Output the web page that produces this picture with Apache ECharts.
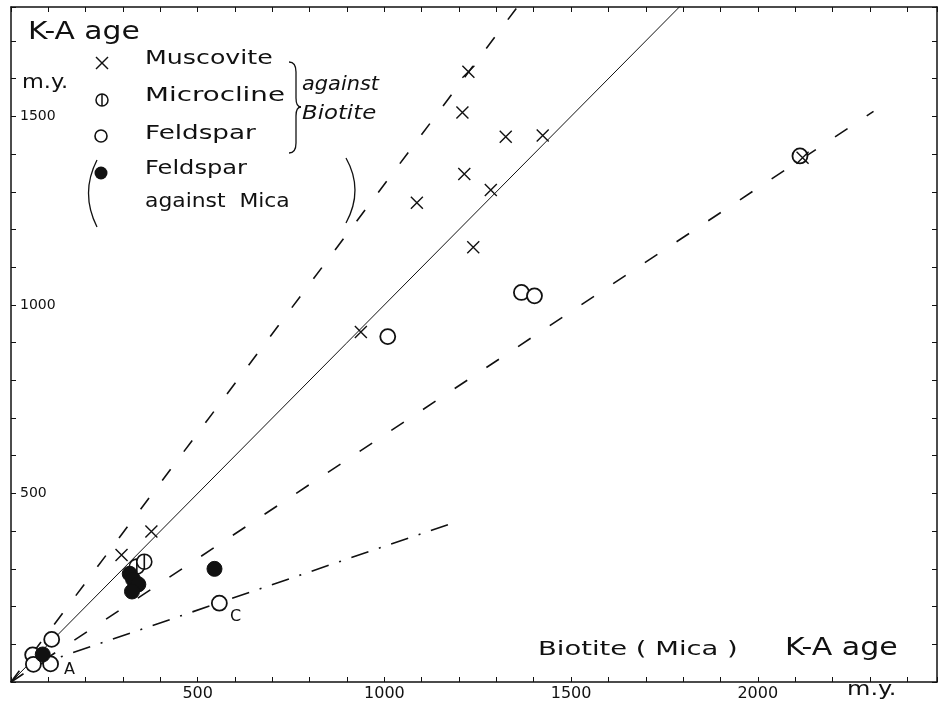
<!DOCTYPE html>
<html>
<head>
<meta charset="utf-8">
<script src="https://cdn.jsdelivr.net/npm/echarts@6/dist/echarts.min.js"></script>
<style>
html,body{margin:0;padding:0;background:#fff;}
#chart{width:940px;height:705px;}
</style>
</head>
<body>
<div id="chart"></div>
<script>
// ---- data ----
var xTickLabels = [500, 1000, 1500, 2000];
var yTickLabels = [500, 1000, 1500];
var muscovite = [[1225,1618],[1209,1510],[1325,1446],[1424,1449],[1214,1347],[1285,1305],[1087,1271],[1238,1153],[937,928],[376,399],[296,337],[2120,1390]];
var microcline = [[337,306],[357,319]];
var feldspar = [[2113,1395],[1367,1033],[1402,1024],[1009,916],[558,209],[109,113],[58,72],[60,47],[106,48]];
var feldsparMica = [[545,300],[318,287],[327,272],[341,259],[324,240],[85,73]];
var lineEqual = [[0,0],[1850,1850]];
var lineSteep = [[0,0],[1400,1848]];
var lineMid = [[0,0],[2310,1513]];
var lineDashDot = [[60,42],[1190,424]];

var FONT = 'DejaVu Sans';
var INK = '#111';

var chart = echarts.init(document.getElementById('chart'), null, {renderer:'canvas'});

function lineSeries(data, type, width){
  return {type:'line', data:data, symbol:'none', silent:true, clip:true,
    lineStyle:{color:INK, width:width, type:type, opacity:1}, z:2};
}
function seg(x1,y1,x2,y2,w){
  return {type:'line', shape:{x1:x1,y1:y1,x2:x2,y2:y2}, style:{stroke:INK, lineWidth:w||1.3}};
}
function curve(x1,y1,cx,cy,x2,y2,w){
  return {type:'bezierCurve', shape:{x1:x1,y1:y1,cpx1:cx,cpy1:cy,x2:x2,y2:y2}, style:{stroke:INK, lineWidth:w||1.3, fill:null}};
}
function label(text, x, y, size, sx, italic){
  return {type:'text', x:x, y:y, scaleX:sx||1,
    style:{text:text, font:(italic?'italic ':'')+size+'px '+FONT, fill:INK}};
}

var crossPath = 'path://M0,0L10,10M10,0L0,10';
var microPath = 'path://M0,10A10,10 0 1,0 20,10A10,10 0 1,0 0,10ZM10,0L10,20';

var option = {
  animation:false,
  backgroundColor:'#fff',
  grid:{left:11, top:7, width:931, height:675, containLabel:false},
  xAxis:[{
    type:'value', min:0, max:2480, interval:100, position:'bottom',
    axisLine:{show:true, onZero:false, lineStyle:{color:INK, width:1.5}},
    axisTick:{show:true, inside:true, length:5, lineStyle:{color:INK}},
    splitLine:{show:false},
    axisLabel:{show:true, margin:4, fontFamily:FONT, fontSize:16, color:INK,
      formatter:function(v){return xTickLabels.indexOf(v)>=0 ? String(v) : '';}}
  },{
    type:'value', min:0, max:2480, interval:100, position:'top',
    axisLine:{show:true, onZero:false, lineStyle:{color:INK, width:1.5}},
    axisTick:{show:true, inside:true, length:5, lineStyle:{color:INK}},
    splitLine:{show:false}, axisLabel:{show:false}
  }],
  yAxis:[{
    type:'value', min:0, max:1790, interval:100, position:'left',
    axisLine:{show:true, onZero:false, lineStyle:{color:INK, width:1.5}},
    axisTick:{show:true, inside:true, length:5, lineStyle:{color:INK}},
    splitLine:{show:false},
    axisLabel:{show:true, inside:true, margin:9, fontFamily:FONT, fontSize:14, color:INK,
      formatter:function(v){return yTickLabels.indexOf(v)>=0 ? String(v) : '';}}
  },{
    type:'value', min:0, max:1790, interval:100, position:'right',
    axisLine:{show:true, onZero:false, lineStyle:{color:INK, width:1.5}},
    axisTick:{show:true, inside:true, length:5, lineStyle:{color:INK}},
    splitLine:{show:false}, axisLabel:{show:false}
  }],
  series:[
    lineSeries(lineEqual, 'solid', 1),
    lineSeries(lineSteep, [14,22], 1.6),
    lineSeries(lineMid, [15,23], 1.6),
    lineSeries(lineDashDot, [18,11,2,11], 1.6),
    {type:'scatter', name:'Muscovite', data:muscovite, symbol:crossPath, symbolSize:12, z:4,
      itemStyle:{color:'none', borderColor:INK, borderWidth:1.4, opacity:1}},
    {type:'scatter', name:'Feldspar', data:feldspar, symbol:'circle', symbolSize:15, z:3,
      itemStyle:{color:'#fff', borderColor:INK, borderWidth:1.8, opacity:1}},
    {type:'scatter', name:'Microcline', data:microcline, symbol:microPath, symbolSize:15, z:3,
      itemStyle:{color:'#fff', borderColor:INK, borderWidth:1.6, opacity:1}},
    {type:'scatter', name:'Feldspar against Mica', data:feldsparMica, symbol:'circle', symbolSize:15, z:5,
      itemStyle:{color:INK, borderColor:INK, borderWidth:1, opacity:1}}
  ],
  graphic:[
    label('K-A age', 28, 21, 24, 1.24),
    label('m.y.', 22, 73, 20, 1.12),
    // legend markers
    seg(96,57,108,69,1.4), seg(108,57,96,69,1.4),
    {type:'circle', shape:{cx:102, cy:100, r:6}, style:{stroke:INK, lineWidth:1.5, fill:'#fff'}},
    seg(102,94,102,106,1.5),
    {type:'circle', shape:{cx:101, cy:136, r:6}, style:{stroke:INK, lineWidth:1.6, fill:'#fff'}},
    {type:'circle', shape:{cx:101, cy:173, r:6.5}, style:{fill:INK}},
    // legend texts
    label('Muscovite', 145, 50, 19, 1.33),
    label('Microcline', 145, 87, 19, 1.46),
    label('Feldspar', 145, 125, 19, 1.38),
    label('Feldspar', 145, 160, 19, 1.27),
    label('against  Mica', 145, 193, 19, 1.15),
    label('against', 302, 76, 19, 1.1, true),
    label('Biotite', 302, 105, 19, 1.2, true),
    // brace and parentheses
    curve(289,62,296,62,296,72), seg(296,72,296,98),
    curve(296,98,296,107,301,107), curve(301,107,296,107,296,116),
    seg(296,116,296,143), curve(296,143,296,153,289,153),
    curve(97,160,80,193,97,227),
    curve(346,158,364,190,346,223),
    // x axis title
    label('Biotite ( Mica )', 538, 640, 20, 1.37),
    label('K-A age', 785, 637, 24, 1.25),
    label('m.y.', 847, 680, 20, 1.2),
    // point labels
    label('A', 64, 662, 16),
    label('C', 230, 609, 16)
  ]
};
chart.setOption(option);
</script>
</body>
</html>
